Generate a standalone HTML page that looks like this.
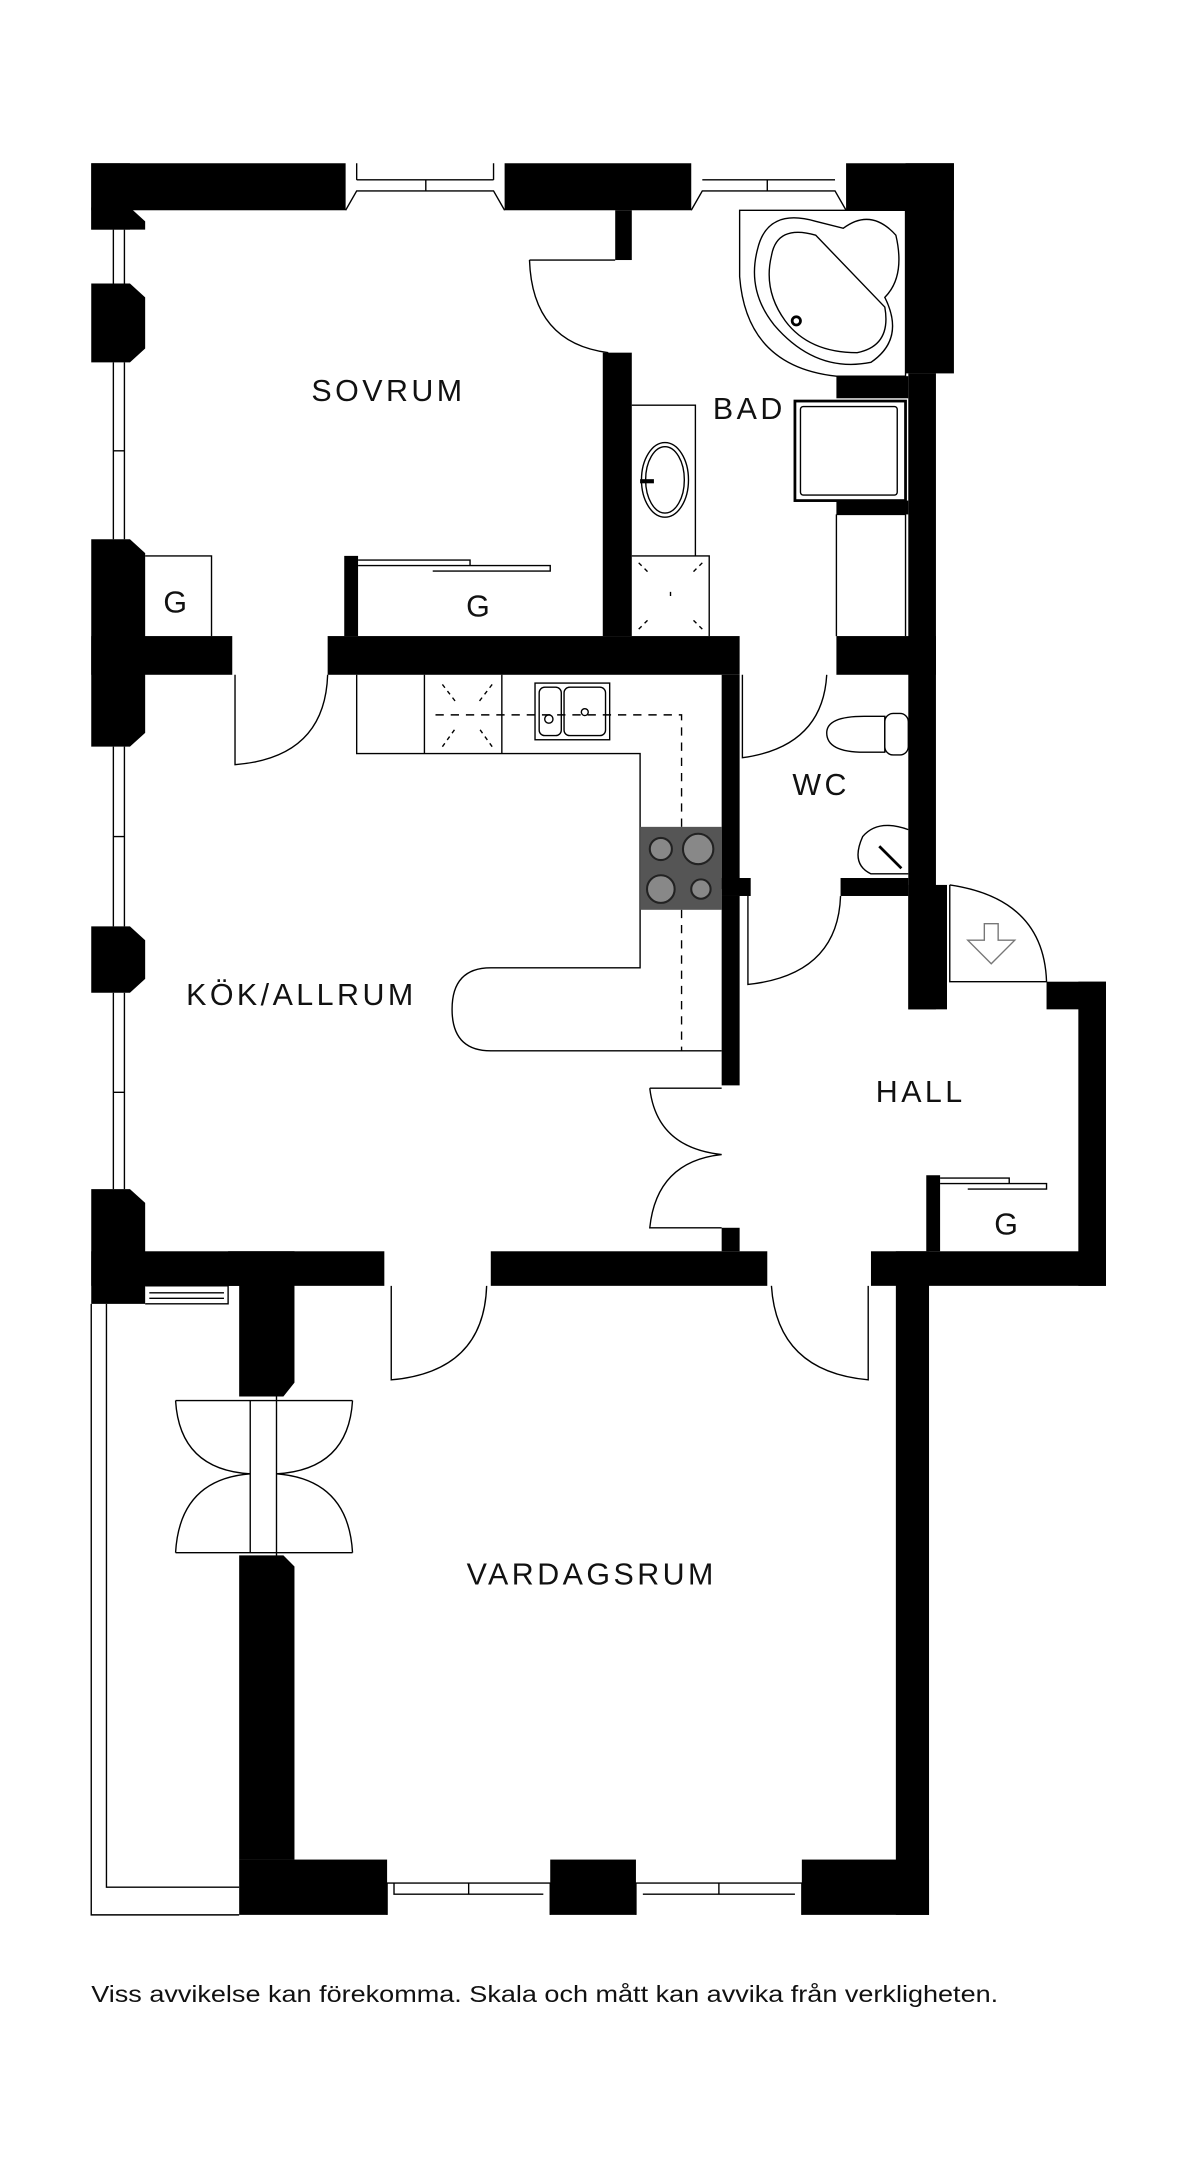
<!DOCTYPE html>
<html><head><meta charset="utf-8"><style>
html,body{margin:0;padding:0;background:#fff;}
svg{display:block}
text{font-family:"Liberation Sans",sans-serif;fill:#111}
</style></head><body>
<svg width="1200" height="2168" viewBox="0 0 868 1568" xmlns="http://www.w3.org/2000/svg">
<g fill="#000" stroke="none">
<rect x="66" y="118" width="184" height="34"/>
<rect x="365" y="118" width="135" height="34"/>
<rect x="612" y="118" width="78" height="34"/>
<rect x="655" y="118" width="35" height="152"/>
<rect x="657" y="270" width="20" height="460"/>
<rect x="66" y="118" width="28" height="48"/>
<polygon points="66,150 94,150 105,160 105,166 66,166"/>
<polygon points="66,205 94,205 105,215 105,252 94,262 66,262"/>
<polygon points="66,390 94,390 105,400 105,530 94,540 66,540"/>
<polygon points="66,670 94,670 105,680 105,708 94,718 66,718"/>
<polygon points="66,860 94,860 105,870 105,943 66,943"/>
<rect x="66" y="460" width="102" height="28"/>
<rect x="237" y="460" width="298" height="28"/>
<rect x="605" y="460" width="72" height="28"/>
<rect x="445" y="152" width="12" height="36"/>
<rect x="436" y="255" width="21" height="205"/>
<rect x="249" y="402" width="10" height="58"/>
<rect x="605" y="272" width="52" height="16"/>
<rect x="605" y="362" width="52" height="10"/>
<rect x="522" y="488" width="13" height="155"/>
<rect x="522" y="635" width="21" height="13"/>
<rect x="522" y="648" width="13" height="137"/>
<rect x="522" y="888" width="13" height="17"/>
<rect x="608" y="635" width="49" height="13"/>
<rect x="657" y="640" width="28" height="90"/>
<rect x="757" y="710" width="43" height="20"/>
<rect x="780" y="710" width="20" height="220"/>
<rect x="670" y="850" width="10" height="55"/>
<rect x="630" y="905" width="170" height="25"/>
<rect x="66" y="905" width="212" height="25"/>
<rect x="355" y="905" width="200" height="25"/>
<polygon points="165,905 213,905 213,930 213,1000 205,1010 173,1010 173,930 165,930"/>
<polygon points="173,1125 205,1125 213,1133 213,1345 173,1345"/>
<rect x="648" y="905" width="24" height="480"/>
<rect x="173" y="1345" width="107" height="40"/>
<rect x="398" y="1345" width="62" height="40"/>
<rect x="580" y="1345" width="92" height="40"/>
</g>
<g fill="none" stroke="#000" stroke-width="1">
<path d="M250,152 L258,138 H357 L365,152 M258,130 H357 M258,138 H357 M308,130 V138 M258,130 V118 M357,130 V118"/>
<path d="M500,152 L508,138 H604 L612,152 M508,130 H604 M555,130 V138"/>
<path d="M82,166 V205 M90,166 V205 M82,262 V390 M90,262 V390 M82,326 H90 M82,540 V670 M90,540 V670 M82,605 H90 M82,718 V860 M90,718 V860 M82,790 H90"/>
<path d="M105,930 H165 V943 H105 M108,935 H162 M108,939 H162"/>
<path d="M280,1385 V1362 H398 V1385 M285,1362 V1370 H393 M339,1362 V1370 M460,1385 V1362 H580 V1385 M465,1370 H575 M520,1362 V1370"/>
<path d="M66,943 V1385 H173 M77,943 V1365 H173"/>
<path d="M105,402 H153 V460"/>
<path d="M259,405 H340 V409 H259 M313,409 H398 V413 H313"/>
<path d="M680,852 H730 V856 H680 M700,856 H757 V860 H700"/>
<path d="M457,293 H503 V402 M457,402 H513 V460 M513,402 V460"/>
<ellipse cx="481" cy="347" rx="17" ry="27"/><ellipse cx="481" cy="347" rx="14" ry="24"/>
<path d="M463,348 H473" stroke-width="3"/>
<path d="M462,407 L470,415 M508,407 L500,415 M462,455 L470,447 M508,455 L500,447 M485,428 L485,434" stroke-dasharray="3,3"/>
<path d="M535,152 V200 Q540,265 605,272 H655 V152 Z"/>
<path d="M548,180 Q555,150 590,160 L610,165 Q630,150 648,170 Q655,200 640,215 Q655,245 630,262 Q590,270 560,235 Q540,210 548,180 Z"/>
<path d="M558,185 Q562,162 590,170 L640,222 Q645,250 620,255 Q585,255 568,232 Q552,210 558,185 Z"/>
<circle cx="576" cy="232" r="3" stroke-width="2"/>
<rect x="575" y="290" width="80" height="72" stroke-width="2"/>
<rect x="579" y="294" width="70" height="64" rx="2"/>
<path d="M605,372 H655 V460 M605,372 V460"/>
<path d="M625,518 Q598,518 598,530 Q598,544 625,544 H640 V518 Z"/>
<rect x="640" y="516" width="17" height="30" rx="6"/>
<path d="M657,600 Q635,592 624,605 Q615,625 630,632 H657"/>
<path d="M636,612 L652,628" stroke-width="2"/>
<path d="M383,188 H445 M383,188 Q385,248 440,255"/>
<path d="M170,488 V553 Q235,548 237,488"/>
<path d="M537,488 V548 Q595,540 598,488"/>
<path d="M541,648 V712 Q606,705 608,648"/>
<path d="M687,640 V710 H757 Q755,650 687,640"/>
<path d="M700,680 H712 V668 H722 V680 H734 L717,697 Z" stroke="#777"/>
<path d="M470,787 H522 M470,787 Q475,830 522,835 Q475,840 470,888 H522"/>
<path d="M283,930 V998 Q350,992 352,930"/>
<path d="M628,930 V998 Q562,992 558,930"/>
<path d="M127,1013 H255 M127,1123 H255 M181,1013 V1123 M127,1013 Q130,1063 181,1066 Q130,1070 127,1123 M255,1013 Q252,1063 200,1066 Q252,1070 255,1123 M200,1010 V1126"/>
<path d="M258,488 V545 H463 V700 H355 Q327,700 327,730 Q327,760 355,760 H522 M307,488 V545 M363,488 V545"/>
<path d="M315,517 H493 V760" stroke-dasharray="6,5"/>
<path d="M320,495 L330,508 M356,495 L346,508 M320,540 L330,526 M356,540 L346,526" stroke-dasharray="3,3"/>
<rect x="387" y="494" width="54" height="41"/>
<rect x="390" y="497" width="16" height="35" rx="4"/><rect x="408" y="497" width="30" height="35" rx="4"/>
<circle cx="423" cy="515" r="2.5"/><circle cx="397" cy="520" r="3"/>
</g>
<rect x="463" y="598" width="59" height="60" fill="#555"/>
<g fill="#888" stroke="#222" stroke-width="1.5">
<circle cx="478" cy="614" r="8"/><circle cx="505" cy="614" r="11"/><circle cx="478" cy="643" r="10"/><circle cx="507" cy="643" r="7"/>
</g>
<g font-size="22" text-anchor="middle" letter-spacing="2.5">
<text x="281" y="290">SOVRUM</text>
<text x="542" y="303">BAD</text>
<text x="594" y="575">WC</text>
<text x="218" y="727">KÖK/ALLRUM</text>
<text x="666" y="797">HALL</text>
<text x="428" y="1146">VARDAGSRUM</text>
<text x="128" y="443">G</text>
<text x="347" y="446">G</text>
<text x="729" y="893">G</text>
</g>
<text x="66" y="1448" font-size="16.5" textLength="656" lengthAdjust="spacingAndGlyphs">Viss avvikelse kan förekomma. Skala och mått kan avvika från verkligheten.</text>
</svg>
</body></html>
